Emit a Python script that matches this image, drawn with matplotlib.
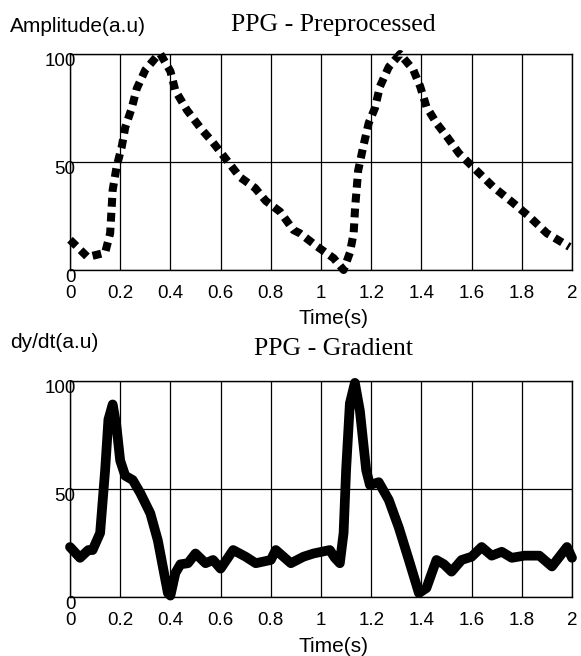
import matplotlib
matplotlib.use('Agg')
import matplotlib.pyplot as plt
from matplotlib.transforms import ScaledTranslation

# PPG - Preprocessed
t_pre = [0.0, 0.07, 0.14, 0.16, 0.17, 0.186, 0.206, 0.22, 0.246, 0.266, 0.30,
         0.35, 0.36, 0.40, 0.42, 0.466, 0.525, 0.57, 0.617, 0.677, 0.737, 0.78,
         0.837, 0.89, 0.916, 0.983, 1.05, 1.09, 1.115, 1.13, 1.136, 1.148,
         1.168, 1.19, 1.215, 1.235, 1.27, 1.315, 1.368, 1.395, 1.42, 1.46,
         1.50, 1.55, 1.62, 1.685, 1.766, 1.83, 1.90, 1.99]
y_pre = [14, 6, 8, 17, 37, 48, 57, 66, 75, 84, 92.6,
         99.5, 100, 92, 83, 74, 65, 59, 52, 43, 38, 32,
         27, 18.5, 17, 11, 5.5, 0, 8, 17, 29, 46,
         57, 68, 75, 85, 94, 100, 92.6, 85, 75.6, 68,
         62, 54, 46, 38.6, 31, 24.7, 17, 10.7]

# PPG - Gradient
t_grad = [0.0, 0.04, 0.073, 0.09, 0.12, 0.14, 0.153, 0.17, 0.185, 0.20, 0.22,
          0.25, 0.28, 0.32, 0.35, 0.37, 0.39, 0.40, 0.42, 0.44, 0.47, 0.50,
          0.54, 0.57, 0.60, 0.65, 0.70, 0.74, 0.80, 0.82, 0.88, 0.93, 0.97,
          1.035, 1.055, 1.075, 1.09, 1.10, 1.115, 1.135, 1.155, 1.18, 1.195,
          1.23, 1.27, 1.31, 1.35, 1.39, 1.42, 1.46, 1.49, 1.52, 1.56, 1.60,
          1.64, 1.68, 1.72, 1.76, 1.81, 1.87, 1.92, 1.98, 2.0]
y_grad = [23, 18, 21.6, 21.6, 29.5, 58.6, 82, 89, 79, 63, 56,
          54, 48, 38.6, 26, 13.8, 1.7, 0.5, 11, 15, 15.5, 20,
          15.5, 17, 13, 21.6, 18.5, 15.5, 17, 21.6, 15.5, 18.5, 20,
          21.6, 18, 15.5, 29.5, 58.6, 89.5, 99, 86, 58.6, 51.7,
          53, 44.8, 32, 17, 1.7, 4, 17, 15, 11.6, 17, 18.5,
          23, 19, 20.8, 18, 19, 19, 14, 23, 18]

xticks = [0, 0.2, 0.4, 0.6, 0.8, 1, 1.2, 1.4, 1.6, 1.8, 2]
xticklabels = ['0', '0.2', '0.4', '0.6', '0.8', '1', '1.2', '1.4', '1.6', '1.8', '2']
yticks = [0, 50, 100]

W, H = 581, 656
fig = plt.figure(figsize=(W / 100, H / 100), dpi=100)
plt.rcParams['font.family'] = ['Liberation Sans', 'DejaVu Sans']


def px(x, y):
    return x / W, 1 - y / H


def setup(ax):
    ax.set_xlim(0, 2)
    ax.set_ylim(0, 100)
    ax.set_xticks(xticks)
    ax.set_xticklabels(xticklabels)
    ax.set_yticks(yticks)
    ax.grid(True, color='black', linewidth=0.9)
    ax.set_axisbelow(True)
    ax.tick_params(axis='both', length=0, labelsize=13.5)
    ax.tick_params(axis='x', pad=11)
    ax.tick_params(axis='y', pad=-4)
    for s in ax.spines.values():
        s.set_linewidth(1.0)
    off = ScaledTranslation(0, -0.055, fig.dpi_scale_trans)
    for lab in ax.get_yticklabels():
        lab.set_transform(lab.get_transform() + off)


ax1 = fig.add_axes([70 / W, 1 - 270 / H, 502 / W, 216 / H])
ax2 = fig.add_axes([70 / W, 1 - 596.7 / H, 502 / W, 216 / H])
setup(ax1)
setup(ax2)

ax1.plot(t_pre, y_pre, color='black', linewidth=5.8, linestyle=(0, (1.1, 0.75)),
         solid_joinstyle='round', clip_on=False)
ax2.plot(t_grad, y_grad, color='black', linewidth=7, solid_joinstyle='round',
         solid_capstyle='round', clip_on=False)

serif = ['Liberation Serif', 'DejaVu Serif']
fig.text(*px(333, 25), 'PPG - Preprocessed', ha='center', va='center',
         fontsize=18.5, family=serif)
fig.text(*px(334, 349), 'PPG - Gradient', ha='center', va='center',
         fontsize=18.5, family=serif)
fig.text(*px(10, 27), 'Amplitude(a.u)', ha='left', va='center', fontsize=15)
fig.text(*px(10, 342), 'dy/dt(a.u)', ha='left', va='center', fontsize=15)
fig.text(*px(333, 319), 'Time(s)', ha='center', va='center', fontsize=15)
fig.text(*px(333, 646), 'Time(s)', ha='center', va='center', fontsize=15)

fig.savefig('out.png', dpi=100)
